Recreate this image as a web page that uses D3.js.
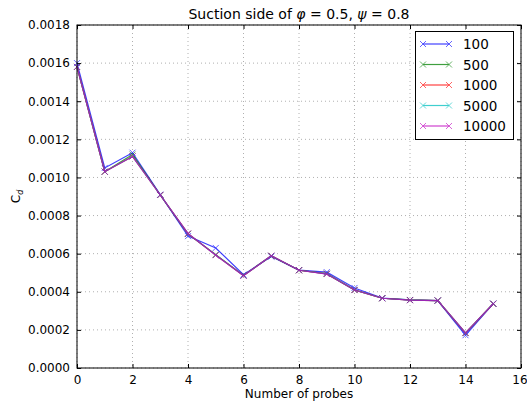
<!DOCTYPE html>
<html>
<head>
<meta charset="utf-8">
<script src="https://cdn.jsdelivr.net/npm/d3@7"></script>
<style>
  body { margin: 0; background: #fff; }
  svg { display: block; font-family: "DejaVu Sans", sans-serif; }
</style>
</head>
<body>
<svg id="chart" width="527" height="403"></svg>
<script>
// Drag coefficient on the suction side against number of probes
const probes = [0, 1, 2, 3, 4, 5, 6, 7, 8, 9, 10, 11, 12, 13, 14, 15];
const seriesNames = ["100", "500", "1000", "5000", "10000"];
const seriesColors = ["#0000ff", "#008000", "#ff0000", "#00bfbf", "#bf00bf"];
const cd100   = [0.00160, 0.00105, 0.00113, 0.000910, 0.000692, 0.000630, 0.000490, 0.000585, 0.000514, 0.000503, 0.000420, 0.000367, 0.000357, 0.000354, 0.000172, 0.000338];
const cd500   = [0.00158, 0.00103, 0.00112, 0.000908, 0.000703, 0.000595, 0.000486, 0.000588, 0.000513, 0.000495, 0.000410, 0.000366, 0.000357, 0.000354, 0.000183, 0.000337];
const cd1000  = [0.00158, 0.00103, 0.00111, 0.000908, 0.000705, 0.000593, 0.000485, 0.000589, 0.000513, 0.000494, 0.000409, 0.000366, 0.000356, 0.000354, 0.000184, 0.000337];
const cd5000  = [0.00158, 0.00103, 0.00111, 0.000908, 0.000705, 0.000593, 0.000485, 0.000589, 0.000513, 0.000494, 0.000409, 0.000366, 0.000356, 0.000354, 0.000184, 0.000337];
const cd10000 = [0.00158, 0.00103, 0.00111, 0.000908, 0.000706, 0.000592, 0.000484, 0.000589, 0.000513, 0.000493, 0.000409, 0.000366, 0.000356, 0.000354, 0.000184, 0.000337];
const seriesValues = [cd100, cd500, cd1000, cd5000, cd10000];
const xTicks = [0, 2, 4, 6, 8, 10, 12, 14, 16];
const yTicks = [0, 0.0002, 0.0004, 0.0006, 0.0008, 0.0010, 0.0012, 0.0014, 0.0016, 0.0018];

const svg = d3.select("#chart");
const L = 77, R = 521, T = 25, B = 368;
const x = d3.scaleLinear().domain([0, 16]).range([L, R]);
const y = d3.scaleLinear().domain([0, 0.0018]).range([B, T]);

// dotted grid
const grid = svg.append("g");
grid.selectAll("line.gx").data(xTicks).join("line")
  .attr("x1", d => x(d)).attr("x2", d => x(d)).attr("y1", T).attr("y2", B)
  .attr("stroke", "#b0b0b0").attr("stroke-width", 1).attr("stroke-dasharray", "1,3");
grid.selectAll("line.gy").data(yTicks).join("line")
  .attr("y1", d => y(d)).attr("y2", d => y(d)).attr("x1", L).attr("x2", R)
  .attr("stroke", "#b0b0b0").attr("stroke-width", 1).attr("stroke-dasharray", "1,3");

// series lines and x markers
const line = d3.line().x((d, i) => x(probes[i])).y(d => y(d));
seriesValues.forEach((vals, si) => {
  const g = svg.append("g").attr("opacity", 0.75);
  g.append("path").datum(vals).attr("d", line)
    .attr("fill", "none").attr("stroke", seriesColors[si]).attr("stroke-width", 1.2);
  g.selectAll("path.m").data(vals).join("path")
    .attr("d", (d, i) => {
      const cx = x(probes[i]), cy = y(d), s = 3;
      return `M${cx - s},${cy - s}L${cx + s},${cy + s}M${cx - s},${cy + s}L${cx + s},${cy - s}`;
    })
    .attr("stroke", seriesColors[si]).attr("stroke-width", 0.8).attr("fill", "none");
});

// axes with inward ticks on all four sides
const fmtY = d3.format(".4f");
const axB = d3.axisBottom(x).tickValues(xTicks).tickSizeInner(-4).tickSizeOuter(0).tickPadding(7).tickFormat(d3.format("d"));
const axT = d3.axisTop(x).tickValues(xTicks).tickSizeInner(-4).tickSizeOuter(0).tickFormat("");
const axL = d3.axisLeft(y).tickValues(yTicks).tickSizeInner(-4).tickSizeOuter(0).tickPadding(7).tickFormat(fmtY);
const axR = d3.axisRight(y).tickValues(yTicks).tickSizeInner(-4).tickSizeOuter(0).tickFormat("");
function style(g) {
  g.select(".domain").remove();
  g.selectAll("text").attr("font-size", 12).attr("fill", "#000").attr("font-family", "DejaVu Sans");
  g.selectAll(".tick line").attr("stroke", "#000");
}
const bottomAxis = svg.append("g").attr("transform", `translate(0,${B})`).call(axB).call(style);
// keep the last x tick label inside the canvas
bottomAxis.selectAll(".tick").filter(d => d === 16).select("text").attr("dx", -1.5);
svg.append("g").attr("transform", `translate(0,${T})`).call(axT).call(style);
svg.append("g").attr("transform", `translate(${L},0)`).call(axL).call(style);
svg.append("g").attr("transform", `translate(${R},0)`).call(axR).call(style);

svg.append("rect").attr("x", L).attr("y", T).attr("width", R - L).attr("height", B - T)
  .attr("fill", "none").attr("stroke", "#000").attr("stroke-width", 1);

// title
const title = svg.append("text").attr("x", (L + R) / 2).attr("y", 19)
  .attr("text-anchor", "middle").attr("font-size", 14).attr("fill", "#000");
title.append("tspan").text("Suction side of ");
title.append("tspan").attr("font-style", "italic").text("φ");
title.append("tspan").text(" = 0.5, ");
title.append("tspan").attr("font-style", "italic").text("ψ");
title.append("tspan").text(" = 0.8");

// axis labels
svg.append("text").attr("x", (L + R) / 2).attr("y", 398).attr("text-anchor", "middle")
  .attr("font-size", 12).attr("fill", "#000").text("Number of probes");
const yl = svg.append("text").attr("transform", `translate(20,${(T + B) / 2}) rotate(-90)`)
  .attr("text-anchor", "middle").attr("font-size", 12).attr("fill", "#000");
yl.append("tspan").text("C");
yl.append("tspan").attr("font-size", 8).attr("font-style", "italic").attr("dy", 3).text("d");

// legend
const lg = svg.append("g");
lg.append("rect").attr("x", 415.5).attr("y", 31.5).attr("width", 98).attr("height", 108)
  .attr("fill", "#fff").attr("stroke", "#000").attr("stroke-width", 1);
seriesNames.forEach((name, i) => {
  const ly = 44 + i * 20.5;
  const g = lg.append("g");
  const gg = g.append("g").attr("opacity", 0.75);
  gg.append("line").attr("x1", 423).attr("x2", 449).attr("y1", ly).attr("y2", ly)
    .attr("stroke", seriesColors[i]).attr("stroke-width", 1.2);
  [423, 449].forEach(cx => {
    gg.append("path").attr("d", `M${cx - 3},${ly - 3}L${cx + 3},${ly + 3}M${cx - 3},${ly + 3}L${cx + 3},${ly - 3}`)
      .attr("stroke", seriesColors[i]).attr("stroke-width", 0.8);
  });
  g.append("text").attr("x", 463).attr("y", ly + 5).attr("font-size", 13.5).attr("fill", "#000").text(name);
});
</script>
</body>
</html>
